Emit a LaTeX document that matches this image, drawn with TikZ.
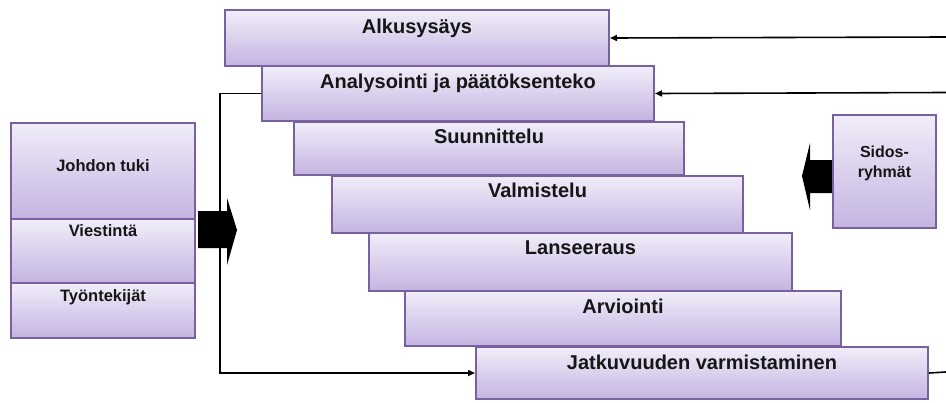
\documentclass[tikz,border=0pt]{standalone}
\usepackage{fontspec}
\setmainfont{Liberation Sans}
\usetikzlibrary{arrows.meta,shadows}
\definecolor{boxtop}{RGB}{241,237,249}
\definecolor{boxbot}{RGB}{196,180,225}
\definecolor{boxline}{RGB}{120,97,158}
\definecolor{txt}{RGB}{22,22,22}
\begin{document}
\begin{tikzpicture}[x=1pt,y=-1pt,
  pbox/.style={draw=boxline, line width=2pt, top color=boxtop, bottom color=boxbot,
    anchor=north west, inner sep=0pt,
    drop shadow={shadow xshift=1.3pt, shadow yshift=-1.3pt, opacity=0.3, fill=black!60}},
  title/.style={font=\fontsize{20}{22}\selectfont\bfseries, text=txt, inner sep=0pt, anchor=base},
  side/.style={font=\fontsize{16.5}{20}\selectfont\bfseries, text=txt, inner sep=0pt, anchor=base},
  conn/.style={draw=black, line width=1.6pt},
  tip/.style={-{Triangle[length=7pt,width=6pt]}},
  block/.style={fill=black}]
\useasboundingbox[fill=white] (0,0) rectangle (946,402);

% main stair boxes
\node[pbox, minimum width=384pt, minimum height=56pt] (alku) at (224,9) {};
\node[pbox, minimum width=392pt, minimum height=55pt] (anal) at (261,65) {};
\node[pbox, minimum width=390pt, minimum height=53pt] (suun) at (293,121) {};
\node[pbox, minimum width=411pt, minimum height=57pt] (valm) at (331,175) {};
\node[pbox, minimum width=423pt, minimum height=58pt] (lans) at (368,232) {};
\node[pbox, minimum width=436pt, minimum height=55pt] (arvi) at (404,290) {};
\node[pbox, minimum width=452pt, minimum height=52pt] (jatk) at (475,346) {};

\node[title] (talku) at ([yshift=-24pt]alku.north) {Alkusysäys};
\node[title] (tanal) at ([yshift=-23pt]anal.north) {Analysointi ja päätöksenteko};
\node[title] (tsuun) at ([yshift=-22pt]suun.north) {Suunnittelu};
\node[title] (tvalm) at ([yshift=-22pt]valm.north) {Valmistelu};
\node[title] (tlans) at ([yshift=-22pt]lans.north) {Lanseeraus};
\node[title] (tarvi) at ([yshift=-23pt]arvi.north) {Arviointi};
\node[title] (tjatk) at ([yshift=-23pt]jatk.north) {Jatkuvuuden varmistaminen};

% left stacked box
\node[pbox, minimum width=184pt, minimum height=96pt] (s1) at (10,122) {};
\node[pbox, minimum width=184pt, minimum height=64pt] (s2) at (10,218) {};
\node[pbox, minimum width=184pt, minimum height=55pt] (s3) at (10,282) {};
\node[side] (ts1) at ([yshift=-49pt]s1.north) {Johdon tuki};
\node[side] (ts2) at ([yshift=-18pt]s2.north) {Viestintä};
\node[side] (ts3) at ([yshift=-19pt]s3.north) {Työntekijät};

% left block arrow
\fill[block] (198,211) -- (227,211) -- (227,198) -- (237,230) -- (227,265) -- (227,248) -- (198,248) -- cycle;

% right block arrow and stakeholder box
\fill[block] (832,160) -- (810,160) -- (810,143) -- (802,176) -- (810,210) -- (810,193) -- (832,193) -- cycle;
\node[pbox, minimum width=103pt, minimum height=113pt] (sid) at (832,114) {};
\node[font=\fontsize{16}{20}\selectfont\bfseries, text=txt, align=center, inner sep=0pt] (tsid)
  at ([yshift=8pt]sid.center) {Sidos-\\ryhmät};

% connectors
\coordinate (in1) at (946,37);
\coordinate (in2) at (946,92.5);
\coordinate (out1) at (946,372);
\draw[conn,tip] (in1) -- (alku.east);
\draw[conn,tip] (in2) -- (anal.east);
\draw[conn,tip] (anal.west) -- ++(-41,0) |- (jatk.west);
\draw[conn] (jatk.east) -- (out1);
\end{tikzpicture}
\end{document}
